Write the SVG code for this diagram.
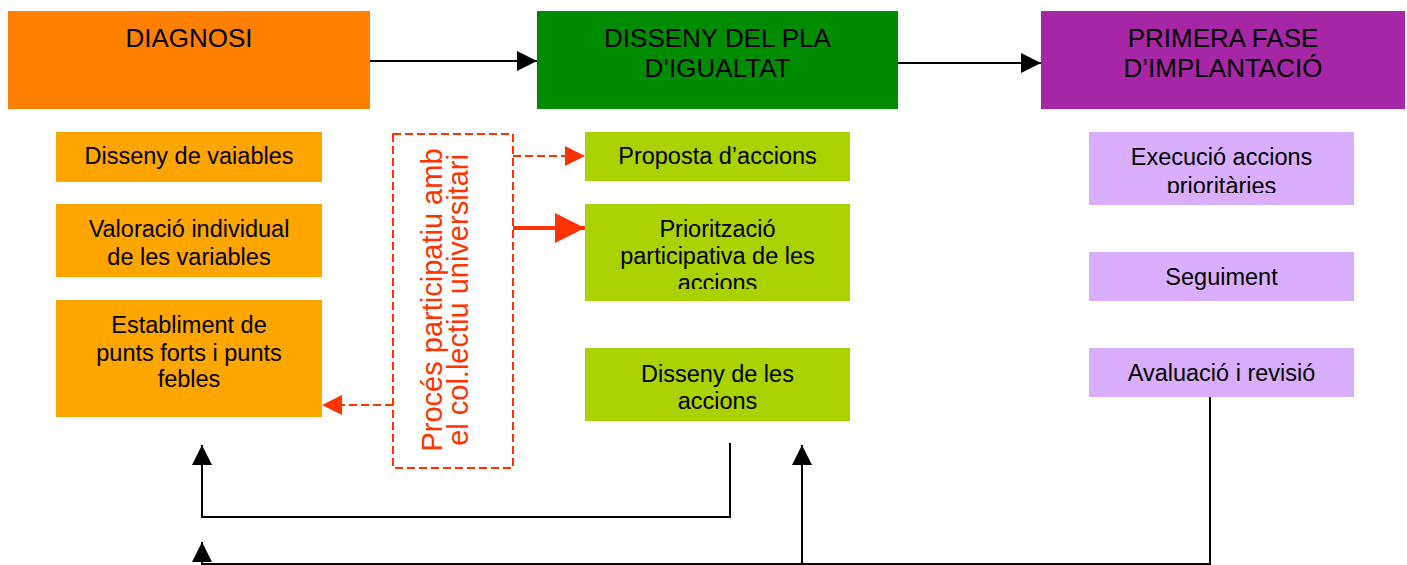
<svg xmlns="http://www.w3.org/2000/svg" width="1407" height="565" viewBox="0 0 1407 565">
<style>
.t{font-family:"Liberation Sans",Arial,sans-serif;font-size:26px;fill:#000;text-anchor:middle}
.b{font-family:"Liberation Sans",Arial,sans-serif;font-size:23.5px;fill:#000;text-anchor:middle}
.r{font-family:"Liberation Sans",Arial,sans-serif;font-size:29px;fill:#FF3300;text-anchor:middle}
.or{fill:#FFA500}
.lg{fill:#AAD200}
.lv{fill:#D9AEFF}
.ln{fill:none;stroke:#000;stroke-width:2}
.dr{fill:none;stroke:#FF3300;stroke-width:2;stroke-dasharray:8 4}
</style>
<defs>
<marker id="ab" markerUnits="userSpaceOnUse" markerWidth="20" markerHeight="20" refX="20" refY="10" orient="auto"><path d="M0,0 L20,10 L0,20 z" fill="#000"/></marker>
<marker id="ar" markerUnits="userSpaceOnUse" markerWidth="20" markerHeight="20" refX="20" refY="10" orient="auto"><path d="M0,0 L20,10 L0,20 z" fill="#FF3300"/></marker>
<marker id="arb" markerUnits="userSpaceOnUse" markerWidth="30" markerHeight="30" refX="30" refY="15" orient="auto"><path d="M0,0 L30,15 L0,30 z" fill="#FF3300"/></marker>
<clipPath id="c1"><rect x="585" y="204" width="265" height="85"/></clipPath>
<clipPath id="c2"><rect x="1089" y="132" width="265" height="61"/></clipPath>
</defs>

<g id="diagnosi"><rect x="8" y="11" width="362" height="98" fill="#FF8000"/><text class="t" x="189" y="47">DIAGNOSI</text></g>
<g id="disseny-pla"><rect x="537" y="11" width="361" height="98" fill="#008C00"/><text class="t" x="717.5" y="47">DISSENY DEL PLA</text><text class="t" x="717.5" y="77">D’IGUALTAT</text></g>
<g id="primera-fase"><rect x="1041" y="11" width="364" height="98" fill="#A626A6"/><text class="t" x="1223" y="47">PRIMERA FASE</text><text class="t" x="1223" y="77">D’IMPLANTACIÓ</text></g>

<g id="disseny-variables"><rect class="or" x="56" y="132" width="266" height="50"/><text class="b" x="189" y="164">Disseny de vaiables</text></g>
<g id="valoracio"><rect class="or" x="56" y="204" width="266" height="73"/><text class="b" x="189" y="237">Valoració individual</text><text class="b" x="189" y="265">de les variables</text></g>
<g id="establiment"><rect class="or" x="56" y="300" width="266" height="117"/><text class="b" x="189" y="333">Establiment de</text><text class="b" x="189" y="361">punts forts i punts</text><text class="b" x="189" y="387">febles</text></g>

<g id="proposta"><rect class="lg" x="585" y="132" width="265" height="49"/><text class="b" x="717.5" y="164">Proposta d’accions</text></g>
<g id="prioritzacio"><rect class="lg" x="585" y="204" width="265" height="97"/><g clip-path="url(#c1)"><text class="b" x="717.5" y="237">Priorització</text><text class="b" x="717.5" y="264">participativa de les</text><text class="b" x="717.5" y="291">accions</text></g></g>
<g id="disseny-accions"><rect class="lg" x="585" y="348" width="265" height="73"/><text class="b" x="717.5" y="382">Disseny de les</text><text class="b" x="717.5" y="409">accions</text></g>

<g id="execucio"><rect class="lv" x="1089" y="132" width="265" height="73"/><g clip-path="url(#c2)"><text class="b" x="1221.5" y="165">Execució accions</text><text class="b" x="1221.5" y="194">prioritàries</text></g></g>
<g id="seguiment"><rect class="lv" x="1089" y="252" width="265" height="49"/><text class="b" x="1221.5" y="285">Seguiment</text></g>
<g id="avaluacio"><rect class="lv" x="1089" y="348" width="265" height="49"/><text class="b" x="1221.5" y="381">Avaluació i revisió</text></g>

<g id="proces-participatiu"><rect class="dr" x="393" y="134" width="120" height="334"/><text class="r" transform="translate(442,300) rotate(-90)"><tspan x="0" y="0">Procés participatiu amb</tspan><tspan x="0" y="26">el col.lectiu universitari</tspan></text></g>

<g id="connectors">
<line class="ln" x1="370" y1="61" x2="537" y2="61" marker-end="url(#ab)"/>
<line class="ln" x1="898" y1="63" x2="1041" y2="63" marker-end="url(#ab)"/>
<line class="dr" x1="513" y1="156" x2="585" y2="156" marker-end="url(#ar)"/>
<line x1="513" y1="228" x2="585" y2="228" stroke="#FF3300" stroke-width="4" marker-end="url(#arb)"/>
<line class="dr" x1="393" y1="405" x2="322" y2="405" marker-end="url(#ar)"/>
<polyline class="ln" points="730,443 730,517 202,517 202,445" marker-end="url(#ab)"/>
<polyline class="ln" points="1210,397 1210,564 202,564 202,542" marker-end="url(#ab)"/>
<line class="ln" x1="802" y1="564" x2="802" y2="445" marker-end="url(#ab)"/>
</g>
</svg>
